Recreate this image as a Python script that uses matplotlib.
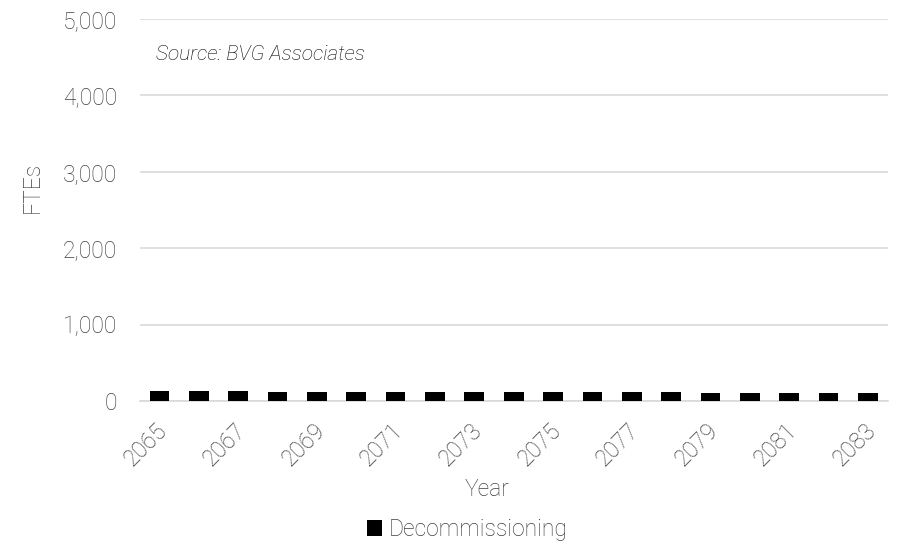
import numpy as np
import matplotlib as mpl
mpl.use('Agg')
from matplotlib import pyplot as plt
from matplotlib.transforms import ScaledTranslation

plt.rcParams['font.family'] = ['Roboto', 'DejaVu Sans']

years = list(range(2065, 2084))
decommissioning = [130, 127, 125, 123, 121, 120, 119, 118, 117, 116,
                   115, 114, 113, 112, 111, 110, 110, 109, 108]
yticks = [0, 1000, 2000, 3000, 4000, 5000]

grey = '#404040'
grid = '#d9d9d9'
fs = 16.5

fig = plt.figure(figsize=(9.02, 5.49), dpi=100)
ax = fig.add_axes([0.155, 0.2696, 0.829, 0.6958])

x = np.arange(len(years))
ax.bar(x, decommissioning, width=0.5, color='black', label='Decommissioning', zorder=3)

ax.set_xlim(-0.5, len(years) - 0.5)
ax.set_ylim(0, 5000)
ax.set_yticks(yticks)
ax.set_yticklabels([f"{v:,}" for v in yticks], fontsize=fs, color=grey, fontweight='light')
ax.set_xticks(x[::2])
ax.set_xticklabels([str(y) for y in years[::2]], rotation=45, ha='right', va='center',
                   rotation_mode='anchor', fontsize=fs, color=grey, fontweight='light')
ax.tick_params(axis='y', length=0, pad=16.5)
ax.tick_params(axis='x', length=0, pad=19)

# nudge the rotated year labels a little to the right
shift = ScaledTranslation(3 / 72, 0, fig.dpi_scale_trans)
for lab in ax.get_xticklabels():
    lab.set_transform(lab.get_transform() + shift)

ax.yaxis.grid(True, color=grid, linewidth=1.2, zorder=0)
for s in ['top', 'right', 'left']:
    ax.spines[s].set_visible(False)
ax.spines['bottom'].set_color(grid)
ax.spines['bottom'].set_linewidth(1.2)

ax.set_ylabel('FTEs', fontsize=fs, color=grey, fontweight='light', va='center', ha='center')
ax.yaxis.set_label_coords(-0.144, 0.558)
ax.set_xlabel('Year', fontsize=fs, color=grey, fontweight='light', va='center', ha='center')
ax.xaxis.set_label_coords(0.464, -0.232)

ax.text(0.021, 0.908, 'Source: BVG Associates', transform=ax.transAxes,
        fontsize=15, style='italic', fontweight='light', color='black', va='center')

fig.legend(loc='center', bbox_to_anchor=(0.518, 0.035), frameon=False,
           handlelength=0.68, handleheight=0.68, handletextpad=0.3,
           labelcolor=grey, prop={'weight': 'light', 'size': fs})

fig.savefig('out.png', dpi=100)
